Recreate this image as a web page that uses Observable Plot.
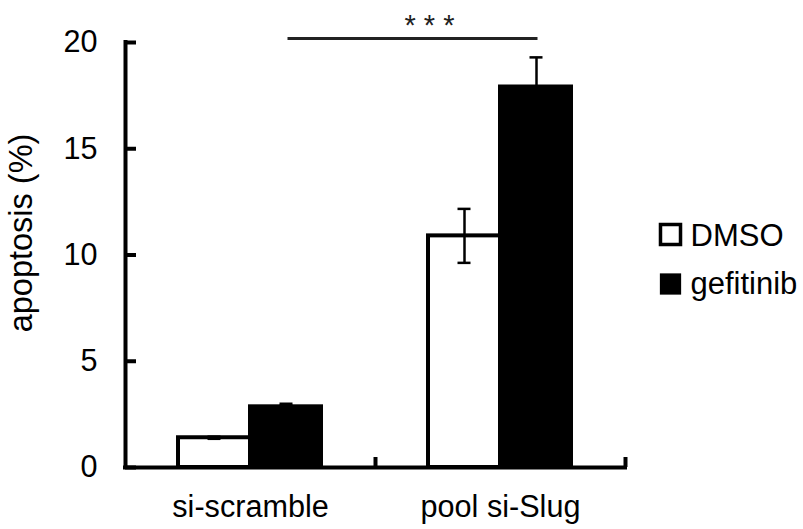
<!DOCTYPE html>
<html>
<head>
<meta charset="utf-8">
<script src="https://cdn.jsdelivr.net/npm/d3@7"></script>
<script src="https://cdn.jsdelivr.net/npm/@observablehq/plot@0.6"></script>
<style>
  html, body { margin: 0; padding: 0; background: #fff; }
  #chart svg { display: block; }
</style>
</head>
<body>
<div id="chart"></div>
<script>
// Apoptosis (%) after DMSO or gefitinib, by siRNA condition (mean ± error)
const groups = ["si-scramble", "pool si-Slug"];
const treatments = ["DMSO", "gefitinib"];
const dmsoMean = [1.4, 10.9];
const dmsoErr = [0.05, 1.27];
const gefitinibMean = [2.95, 18.0];
const gefitinibErr = [0.05, 1.3];
const yTicks = [0, 5, 10, 15, 20];
const significance = "* * *";
const yLabel = "apoptosis (%)";

const rows = groups.flatMap((g, i) => [
  {group: g, treatment: treatments[0], mean: dmsoMean[i], err: dmsoErr[i]},
  {group: g, treatment: treatments[1], mean: gefitinibMean[i], err: gefitinibErr[i]}
]);
const dmso = rows.filter(d => d.treatment === treatments[0]);
const gef = rows.filter(d => d.treatment === treatments[1]);

const W = 803, H = 529;
const mL = 125, mR = 178, mT = 42, mB = 62;
const band = (W - mL - mR) / groups.length; // width of one group band
const half = band / 2;
const off = 36;   // bar centre offset from the group centre
const cap = 6.5;  // half width of error-bar caps
const frameH = H - mT - mB;

const chart = Plot.plot({
  width: W,
  height: H,
  marginLeft: mL,
  marginRight: mR,
  marginTop: mT,
  marginBottom: mB,
  style: {fontFamily: "'Liberation Sans', Arial, sans-serif", fontSize: "30.6px", color: "#000", background: "#fff"},
  x: {domain: groups, padding: 0, tickSize: 0, tickPadding: 28, label: null},
  y: {domain: [0, 20], ticks: yTicks, tickSize: 0, tickPadding: 28, label: null},
  marks: [
    // bars: DMSO open, gefitinib solid
    Plot.barY(dmso, {x: "group", y: "mean", insetLeft: half - 72, insetRight: half, fill: "#fff", stroke: "#000", strokeWidth: 4}),
    Plot.barY(gef, {x: "group", y: "mean", insetLeft: half - 2, insetRight: half - 73, fill: "#000"}),
    // error bars
    Plot.ruleX(dmso, {x: "group", y1: d => d.mean - d.err, y2: d => d.mean + d.err, dx: -off, stroke: "#000", strokeWidth: 2.5}),
    Plot.tickY(dmso, {x: "group", y: d => d.mean + d.err, insetLeft: half - off - cap, insetRight: half + off - cap, stroke: "#000", strokeWidth: 2.5}),
    Plot.tickY(dmso, {x: "group", y: d => d.mean - d.err, insetLeft: half - off - cap, insetRight: half + off - cap, stroke: "#000", strokeWidth: 2.5}),
    Plot.ruleX(gef, {x: "group", y1: d => d.mean - d.err, y2: d => d.mean + d.err, dx: off, stroke: "#000", strokeWidth: 2.5}),
    Plot.tickY(gef, {x: "group", y: d => d.mean + d.err, insetLeft: half + off - cap, insetRight: half - off - cap, stroke: "#000", strokeWidth: 2.5}),
    Plot.tickY(gef, {x: "group", y: d => d.mean - d.err, insetLeft: half + off - cap, insetRight: half - off - cap, stroke: "#000", strokeWidth: 2.5}),
    // axis lines and inward ticks
    Plot.ruleY([0], {stroke: "#000", strokeWidth: 4, strokeLinecap: "square"}),
    Plot.ruleX([groups[0]], {dx: -half, y1: 0, y2: 20, stroke: "#000", strokeWidth: 4, strokeLinecap: "square"}),
    Plot.ruleY(yTicks, {insetRight: band * groups.length - 11, stroke: "#000", strokeWidth: 4}),
    Plot.ruleX(groups, {dx: half, insetTop: frameH - 10, stroke: "#000", strokeWidth: 4}),
    // significance bracket between the gefitinib bars
    Plot.link([{from: groups[0], to: groups[1]}], {x1: "from", x2: "to", y1: 20, y2: 20, dx: off + 1, dy: -4, stroke: "#222", strokeWidth: 3}),
    Plot.text([significance], {x: () => groups[1], y: () => 20, dx: -71, dy: -17, fontSize: 29, fill: "#222"}),
    // y-axis title
    Plot.text([yLabel], {frameAnchor: "left", textAnchor: "middle", rotate: -90, dx: -104, dy: -22, fill: "#000", fontSize: 32.5}),
    // legend
    Plot.dot([treatments[0]], {frameAnchor: "right", dx: 45, dy: -20.5, symbol: "square", r: 11.3, fill: "#fff", stroke: "#000", strokeWidth: 3.5}),
    Plot.dot([treatments[1]], {frameAnchor: "right", dx: 45, dy: 29, symbol: "square", r: 12, fill: "#000", stroke: "none"}),
    Plot.text([treatments[0]], {frameAnchor: "right", dx: 65, dy: -19, textAnchor: "start", fill: "#000", fontSize: 31}),
    Plot.text([treatments[1]], {frameAnchor: "right", dx: 65, dy: 29, textAnchor: "start", fill: "#000", fontSize: 31})
  ]
});

document.getElementById("chart").appendChild(chart);
</script>
</body>
</html>
